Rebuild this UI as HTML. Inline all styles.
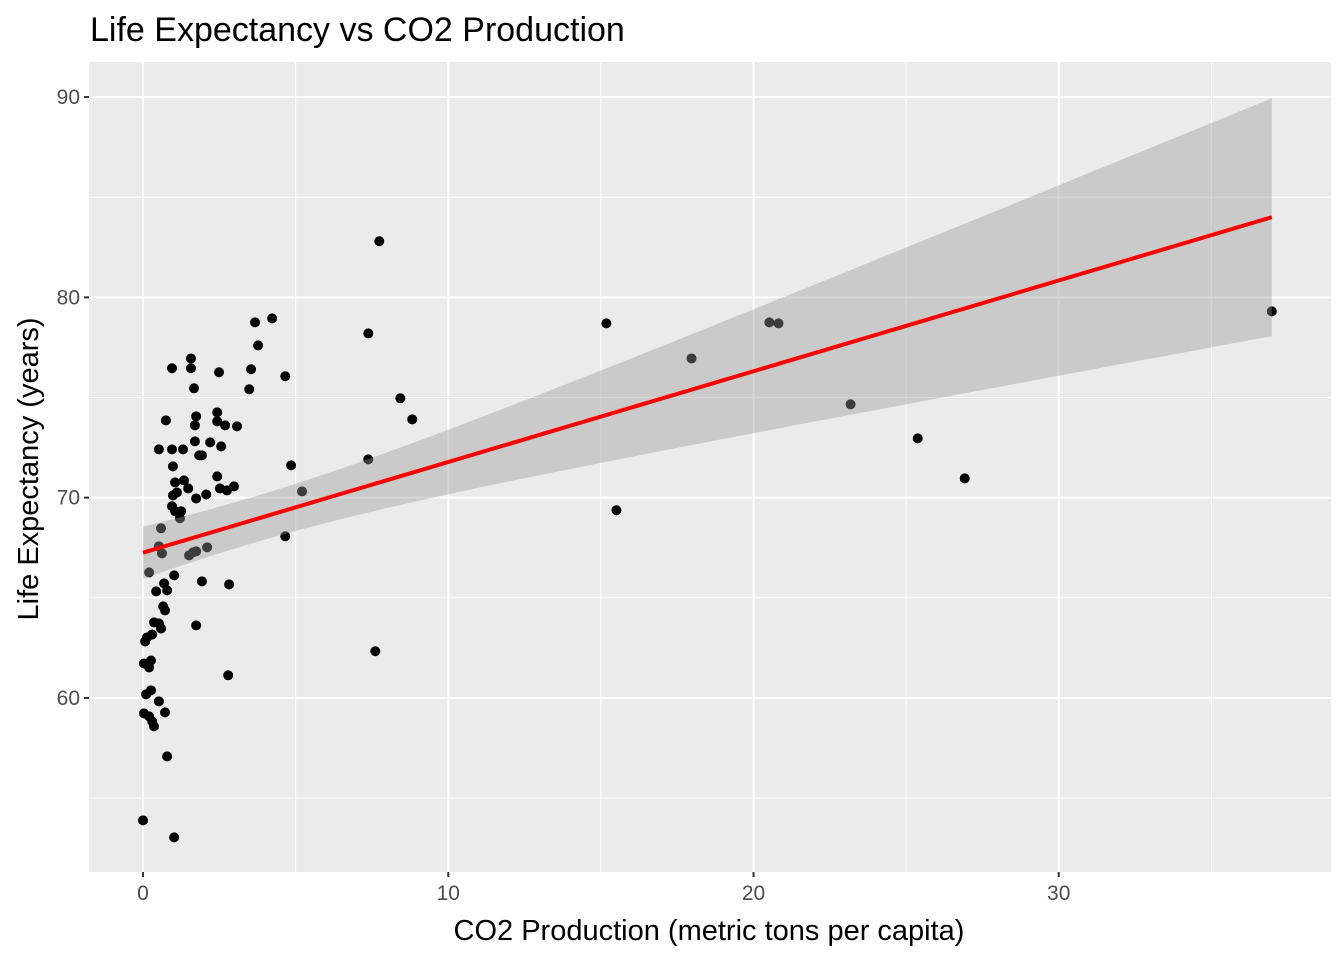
<!DOCTYPE html>
<html><head><meta charset="utf-8"><style>
html,body{margin:0;padding:0;background:#fff;}
svg{display:block;font-family:"Liberation Sans",sans-serif;}
</style></head><body>
<svg id="chart" width="1344" height="960" viewBox="0 0 1344 960" xmlns="http://www.w3.org/2000/svg">
<text x="90" y="41" font-size="34" fill="#000">Life Expectancy vs CO2 Production</text>
<rect x="89" y="62" width="1242" height="810" fill="#ebebeb"/>
<g id="grid"></g><g id="points"></g><g id="fit"></g><g id="axes"></g>
<text x="709" y="940" font-size="29" text-anchor="middle" fill="#000">CO2 Production (metric tons per capita)</text>
<text transform="translate(38,469) rotate(-90)" font-size="29" text-anchor="middle" fill="#000">Life Expectancy (years)</text>
</svg>
<script>
const co2 = [0,1.02,0.79,0.03,0.2,0.36,0.3,0.1,0.26,0.52,0.72,0.03,0.26,0.2,0.13,0.07,0.3,0.36,0.52,0.59,0.43,0.69,0.79,0.66,0.72,0.2,0.52,0.62,0.59,1.02,0.95,1.05,0.98,1.11,1.21,1.05,0.98,0.95,0.52,0.75,1.25,1.34,1.31,1.48,1.51,1.64,1.74,1.84,1.7,1.74,1.7,1.74,1.93,2.07,2.2,2.1,1.74,1.93,1.57,1.67,1.57,0.95,2.49,2.43,2.43,2.43,2.56,2.52,2.75,2.98,2.82,2.79,2.69,3.08,3.48,3.54,3.67,3.77,4.23,4.66,4.85,4.66,5.21,7.38,7.38,7.61,7.74,8.43,8.82,15.18,15.51,17.97,20.52,20.82,23.18,25.38,26.92,36.98];
const lifeExp = [53.89,53.04,57.08,59.23,59.08,58.58,58.83,60.18,60.38,59.83,59.28,61.72,61.87,61.52,63.02,62.82,63.17,63.77,63.72,63.47,65.32,65.72,65.37,64.57,64.37,66.27,67.57,67.22,68.47,66.12,69.57,69.32,70.11,70.26,68.97,70.76,71.56,72.41,72.41,73.86,69.32,70.86,72.41,70.46,67.12,67.27,67.32,72.11,72.81,74.06,73.61,69.96,72.11,70.16,72.76,67.52,63.62,65.82,76.95,75.46,76.46,76.46,76.26,71.06,73.81,74.26,72.56,70.46,70.36,70.56,65.67,61.13,73.61,73.56,75.41,76.41,78.75,77.6,78.95,76.06,71.61,68.07,70.31,78.2,71.91,62.33,82.8,74.96,73.91,78.7,69.37,76.95,78.75,78.7,74.66,72.96,70.96,79.3];
const xTicks = [0,10,20,30];
const yTicks = [60,70,80,90];
const xMinor = [5,15,25,35];
const yMinor = [55,65,75,85];
const fitIntercept = 67.25;
const fitSlope = 0.453;
const bandS0 = 1.15, bandK = 0.174, bandMeanX = 3.5;

const X0=89,X1=1331,Y0=62,Y1=872;
const xmin=-1.77,xmax=38.92,ymin=51.31,ymax=91.75;
const sx=v=>X0+(v-xmin)/(xmax-xmin)*(X1-X0);
const sy=v=>Y1-(v-ymin)/(ymax-ymin)*(Y1-Y0);
const NS="http://www.w3.org/2000/svg";
function mk(tag,attrs,parent){const e=document.createElementNS(NS,tag);for(const k in attrs)e.setAttribute(k,attrs[k]);parent.appendChild(e);return e;}
const grid=document.getElementById('grid'),pts=document.getElementById('points'),fit=document.getElementById('fit'),axes=document.getElementById('axes');
xMinor.forEach(v=>{const l=mk('line',{x1:sx(v),x2:sx(v),y1:Y0,y2:Y1,stroke:'#fff','stroke-width':1},grid);

});
yMinor.forEach(v=>{const l=mk('line',{x1:X0,x2:X1,y1:sy(v),y2:sy(v),stroke:'#fff','stroke-width':1},grid);

});
xTicks.forEach(v=>{const l=mk('line',{x1:sx(v),x2:sx(v),y1:Y0,y2:Y1,stroke:'#fff','stroke-width':2},grid);


const t=mk('line',{x1:sx(v),x2:sx(v),y1:Y1,y2:Y1+5,stroke:'#333','stroke-width':2},axes);


const tx=mk('text',{x:sx(v),y:Y1+28,'font-size':21,'text-anchor':'middle',fill:'#4d4d4d'},axes);tx.textContent=v;

});
yTicks.forEach(v=>{const l=mk('line',{x1:X0,x2:X1,y1:sy(v),y2:sy(v),stroke:'#fff','stroke-width':2},grid);


const t=mk('line',{x1:X0-5,x2:X0,y1:sy(v),y2:sy(v),stroke:'#333','stroke-width':2},axes);


const tx=mk('text',{x:X0-9,y:sy(v)+7,'font-size':21,'text-anchor':'end',fill:'#4d4d4d'},axes);tx.textContent=v;

});
co2.forEach((c,i)=>{const p=mk('circle',{cx:sx(c),cy:sy(lifeExp[i]),r:5,fill:'#000'},pts);

});
const xa=Math.min(...co2),xb=Math.max(...co2);
let up=[],lo=[];
for(let i=0;i<=60;i++){const x=xa+(xb-xa)*i/60;const m=fitIntercept+fitSlope*x;const h=Math.sqrt(bandS0*bandS0+bandK*bandK*(x-bandMeanX)*(x-bandMeanX));
up.push(sx(x)+','+sy(m+h));lo.unshift(sx(x)+','+sy(m-h));}
const band=mk('polygon',{points:up.concat(lo).join(' '),fill:'#999','fill-opacity':0.4},fit);


const ln=mk('line',{x1:sx(xa),y1:sy(fitIntercept+fitSlope*xa),x2:sx(xb),y2:sy(fitIntercept+fitSlope*xb),stroke:'#ff0000','stroke-width':4},fit);


</script>
</body></html>
